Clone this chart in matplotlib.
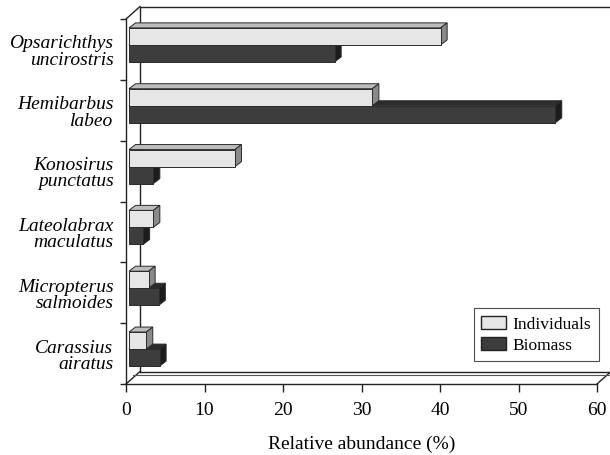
import numpy as np
import matplotlib
matplotlib.use("Agg")
import matplotlib.pyplot as plt
from matplotlib.patches import Polygon, Rectangle, Patch
from matplotlib import transforms

species = ["Opsarichthys\nuncirostris", "Hemibarbus\nlabeo", "Konosirus\npunctatus",
           "Lateolabrax\nmaculatus", "Micropterus\nsalmoides", "Carassius\nairatus"]
individuals = [39.7, 31.0, 13.5, 3.1, 2.5, 2.2]
biomass = [26.2, 54.3, 3.1, 1.8, 3.8, 3.9]
xticks = [0, 10, 20, 30, 40, 50, 60]

plt.rcParams['font.family'] = ['Liberation Serif', 'DejaVu Serif']

fig = plt.figure(figsize=(6.1, 4.56), dpi=100)
ax = fig.add_axes([126 / 610, 71 / 456, 471 / 610, 365 / 456])
ax.set_xlim(0, 60)
ax.set_ylim(5.5, -0.5)

# pixel -> data scale, used for the fake 3D depth
bb = ax.get_window_extent()
sx = bb.width / 60.0
sy = bb.height / 6.0


def depth(px, py):
    return px / sx, -py / sy


line_c = '#222222'
# back walls and floor
wx, wy = depth(14, 12.5)
wall = dict(color=line_c, lw=1.0, clip_on=False, zorder=1)
ax.plot([wx, wx, 60 + wx, 60 + wx, wx], [5.5 + wy, -0.5 + wy, -0.5 + wy, 5.5 + wy, 5.5 + wy], **wall)
ax.plot([0, wx], [-0.5, -0.5 + wy], **wall)
ax.plot([0, wx], [5.5, 5.5 + wy], **wall)
ax.plot([60, 60 + wx], [5.5, 5.5 + wy], **wall)
fx, fy = depth(0, 3)
ax.plot([wx * 0.5, 60 + wx * 0.85], [5.5 + wy - fy, 5.5 + wy - fy], color='#555555', lw=0.8, clip_on=False, zorder=1)

# bars with depth
bar_tr = transforms.offset_copy(ax.transData, fig=fig, x=3, y=4.5, units='dots')
bx, by = depth(6.5, 5)
h = 0.28


def bar3d(v, c, front, top, side):
    y0 = c - h / 2
    y1 = c + h / 2
    kw = dict(edgecolor='#2a2a2a', lw=0.7, transform=bar_tr, zorder=3)
    ax.add_patch(Polygon([(0, y0), (v, y0), (v + bx, y0 + by), (bx, y0 + by)], facecolor=top, **kw))
    ax.add_patch(Polygon([(v, y0), (v + bx, y0 + by), (v + bx, y1 + by), (v, y1)], facecolor=side, **kw))
    ax.add_patch(Rectangle((0, y0), v, h, facecolor=front, **kw))


for i in range(len(species)):
    bar3d(biomass[i], i + 0.14, '#3d3d3d', '#2c2c2c', '#1c1c1c')
    bar3d(individuals[i], i - 0.14, '#e6e6e6', '#bcbcbc', '#8a8a8a')

for s in ['top', 'right']:
    ax.spines[s].set_visible(False)
for s in ['left', 'bottom']:
    ax.spines[s].set_color(line_c)
    ax.spines[s].set_linewidth(1.0)
    ax.spines[s].set_zorder(2)

ax.set_yticks(np.arange(-0.5, 6, 1))
ax.set_yticklabels([])
ax.set_yticks(range(len(species)), minor=True)
ax.set_yticklabels(species, minor=True, fontstyle='italic', fontsize=14, linespacing=0.95)
ax.tick_params(axis='y', which='major', length=4, width=1, color=line_c, direction='out')
ax.tick_params(axis='y', which='minor', length=0, pad=9)

ax.set_xticks(xticks)
ax.set_xticklabels([str(t) for t in xticks], fontsize=14)
ax.tick_params(axis='x', length=6, width=1, color=line_c, direction='out', pad=6)
ax.set_xlabel("Relative abundance (%)", fontsize=14, labelpad=12)

handles = [Patch(facecolor='#e6e6e6', edgecolor='#222222', label='Individuals'),
           Patch(facecolor='#3d3d3d', edgecolor='#222222', label='Biomass')]
leg = fig.legend(handles=handles, loc='lower right', bbox_to_anchor=(599 / 610, 94 / 456),
                 fontsize=12.5, frameon=True, fancybox=False, edgecolor='#222222',
                 handlelength=1.45, handleheight=0.8, labelspacing=0.25,
                 borderpad=0.45, handletextpad=0.35, borderaxespad=0)
leg.get_frame().set_linewidth(0.8)

fig.savefig("out.png", dpi=100)
